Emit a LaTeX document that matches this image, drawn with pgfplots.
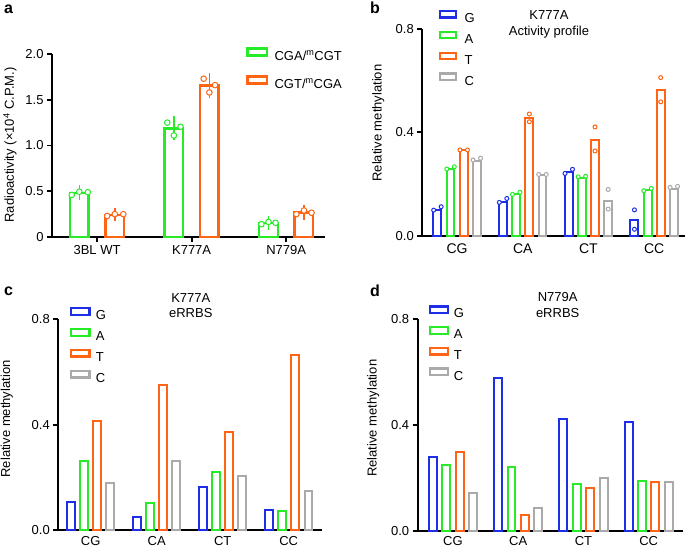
\documentclass[border=0pt]{standalone}
\usepackage{fontspec}
\setmainfont{Liberation Sans}
\usepackage{pgfplots}
\pgfplotsset{compat=1.18}
\definecolor{cg}{RGB}{40,235,40}
\definecolor{cb}{RGB}{30,45,230}
\definecolor{co}{RGB}{255,100,20}
\definecolor{cy}{RGB}{170,170,170}
\newcommand\fs{\fontsize{13bp}{15.6bp}\selectfont}
\newcommand\fl{\fontsize{14bp}{16bp}\selectfont}
\newcommand\fp{\fontsize{16bp}{18bp}\selectfont\bfseries}
\pgfplotsset{
 panel/.style={scale only axis, anchor=south west, axis lines=left,
   axis line style={-, line width=1.8bp, black}, tick align=outside,
   major tick length=5bp, tick style={line width=1.8bp, black}, clip=false, ymin=0,
   tick label style={font=\fs}, label style={font=\fs}, legend cell align=left,
   every axis legend/.append style={draw=none, fill=none, inner sep=0pt, outer sep=0pt,
     anchor=north west, font=\fs, nodes={text height=9.5bp, text depth=2.5bp, inner sep=0.5bp}}},
 bar/.style={ybar, bar shift=0pt, fill=white, draw=#1, line width=2bp, forget plot},
 dot/.style 2 args={only marks, mark=*, mark size=#2, mark options={draw=#1, fill=white, line width=1bp}, forget plot},
}
\begin{document}
\begin{tikzpicture}
\path[use as bounding box] (0,0) rectangle (685bp,-548bp);
% ---------------- panel a
\begin{axis}[panel, at={(52bp,-237bp)}, width=273bp, height=183bp,
  xmin=-0.476, xmax=2.41, ymax=2,
  ytick={0,0.5,1,1.5,2}, yticklabels={0,0.5,1.0,1.5,2.0},
  xtick={0,1,2}, xticklabels={3BL WT,K777A,N779A},
  ylabel={Radioactivity (×10\textsuperscript{4} C.P.M.)},
  ylabel style={at={(axis description cs:-0.154,0.503)}, anchor=center},
  legend image code/.code={\draw[#1,fill=white] (0bp,1.2bp) rectangle (19.5bp,8.2bp);},
  legend style={at={(axis description cs:0.711,1.037)}, row sep=12bp, column sep=6bp}]
\addplot[bar=cg, line width=2.5bp, bar width=0.196, error bars/.cd, y dir=both, y explicit,
  error bar style={line width=1.5bp, cg}, error mark options={line width=1.5bp, cg, mark size=5.5bp}]
  coordinates {(-0.1875,0.482) +- (0,0.021) (0.8125,1.187) +- (0,0.071) (1.8125,0.153) +- (0,0.013)};
\addplot[bar=co, line width=2.5bp, bar width=0.196, error bars/.cd, y dir=both, y explicit,
  error bar style={line width=1.5bp, co}, error mark options={line width=1.5bp, co, mark size=5.5bp}]
  coordinates {(0.1875,0.243) +- (0,0.012) (1.1875,1.657) +- (0,0.075) (2.1875,0.268) +- (0,0.02)};
\addplot[dot={cg}{2.8bp}] coordinates {(-0.2675,0.46) (-0.1875,0.495) (-0.0975,0.49)
  (0.7425,1.25) (0.8125,1.11) (0.8825,1.205) (1.7375,0.14) (1.8125,0.165) (1.8875,0.155)};
\addplot[dot={co}{2.8bp}] coordinates {(0.1075,0.23) (0.1875,0.25) (0.2775,0.25)
  (1.1275,1.73) (1.1875,1.58) (1.2475,1.66) (2.1075,0.25) (2.1875,0.29) (2.2675,0.265)};
\addlegendimage{draw=cg, line width=2.5bp}\addlegendentry{CGA/\textsuperscript{m}CGT}
\addlegendimage{draw=co, line width=2.5bp}\addlegendentry{CGT/\textsuperscript{m}CGA}
\node[font=\fp, anchor=base west] at (axis description cs:-0.1886,1.2224) {a};
\end{axis}
% ---------------- panel b
\begin{axis}[panel, at={(422.3bp,-235.7bp)}, width=262.7bp, height=206.7bp,
  xmin=-0.53, xmax=3.47, ymax=0.8,
  ytick={0,0.4,0.8}, yticklabels={0.0,0.4,0.8},
  xtick={0,1,2,3}, xticklabels={CG,CA,CT,CC}, major x tick style={draw=none},
  x tick label style={font=\fl},
  ylabel={Relative methylation},
  ylabel style={at={(axis description cs:-0.1675,0.545)}, anchor=center},
  legend image code/.code={\draw[#1,fill=white] (0bp,1.4bp) rectangle (16bp,8bp);},
  legend style={at={(axis description cs:0.063,1.093)}, row sep=5.3bp, column sep=7bp}]
\addplot[bar=cb, bar width=0.12] coordinates {(-0.3,0.10) (0.7,0.13) (1.7,0.245) (2.7,0.06)};
\addplot[bar=cg, bar width=0.12] coordinates {(-0.1,0.26) (0.9,0.16) (1.9,0.225) (2.9,0.175)};
\addplot[bar=co, bar width=0.12] coordinates {(0.1,0.33) (1.1,0.455) (2.1,0.37) (3.1,0.565)};
\addplot[bar=cy, bar width=0.12] coordinates {(0.3,0.29) (1.3,0.235) (2.3,0.135) (3.3,0.18)};
\addplot[dot={cb}{2bp}] coordinates {(-0.357,0.099) (-0.243,0.112) (0.643,0.129) (0.757,0.144)
  (1.643,0.241) (1.757,0.257) (2.7,0.100) (2.7,0.025)};
\addplot[dot={cg}{2bp}] coordinates {(-0.157,0.258) (-0.043,0.267) (0.843,0.160) (0.957,0.168)
  (1.843,0.228) (1.957,0.230) (2.843,0.174) (2.957,0.183)};
\addplot[dot={co}{2bp}] coordinates {(0.043,0.332) (0.157,0.332) (1.1,0.471) (1.1,0.441)
  (2.1,0.421) (2.1,0.328) (3.1,0.612) (3.1,0.518)};
\addplot[dot={cy}{2bp}] coordinates {(0.243,0.293) (0.357,0.300) (1.243,0.237) (1.357,0.237)
  (2.3,0.179) (2.3,0.103) (3.243,0.187) (3.357,0.191)};
\addlegendimage{draw=cb, line width=2.2bp}\addlegendentry{G}
\addlegendimage{draw=cg, line width=2.2bp}\addlegendentry{A}
\addlegendimage{draw=co, line width=2.2bp}\addlegendentry{T}
\addlegendimage{draw=cy, line width=2.2bp}\addlegendentry{C}
\node[font=\fp, anchor=base west] at (axis description cs:-0.2116,1.076) {b};
\node[font=\fs, anchor=base] at (axis description cs:0.482,1.0452) {K777A};
\node[font=\fs, anchor=base] at (axis description cs:0.482,0.9693) {Activity profile};
\end{axis}
% ---------------- panel c
\begin{axis}[panel, at={(58.3bp,-530bp)}, width=263.4bp, height=210.7bp,
  xmin=-0.49, xmax=3.5, ymax=0.8,
  ytick={0,0.4,0.8}, yticklabels={0.0,0.4,0.8},
  xtick={0,1,2,3}, xticklabels={CG,CA,CT,CC}, major x tick style={draw=none},
  x tick label style={font=\fs, yshift=2.5bp},
  ylabel={Relative methylation},
  ylabel style={at={(axis description cs:-0.196,0.527)}, anchor=center},
  legend image code/.code={\draw[#1,fill=white] (0bp,1.4bp) rectangle (18.3bp,8bp);},
  legend style={at={(axis description cs:0.045,1.058)}, row sep=5.3bp, column sep=4.8bp}]
\addplot[bar=cb, bar width=0.121] coordinates {(-0.3,0.107) (0.7,0.050) (1.7,0.163) (2.7,0.076)};
\addplot[bar=cg, bar width=0.121] coordinates {(-0.1,0.262) (0.9,0.101) (1.9,0.220) (2.9,0.074)};
\addplot[bar=co, bar width=0.121] coordinates {(0.1,0.414) (1.1,0.549) (2.1,0.373) (3.1,0.664)};
\addplot[bar=cy, bar width=0.121] coordinates {(0.3,0.180) (1.3,0.262) (2.3,0.205) (3.3,0.148)};
\addlegendimage{draw=cb, line width=2.2bp}\addlegendentry{G}
\addlegendimage{draw=cg, line width=2.2bp}\addlegendentry{A}
\addlegendimage{draw=co, line width=2.2bp}\addlegendentry{T}
\addlegendimage{draw=cy, line width=2.2bp}\addlegendentry{C}
\node[font=\fp, anchor=base west] at (axis description cs:-0.2194,1.1153) {c};
\node[font=\fs, anchor=base] at (axis description cs:0.503,1.0776) {K777A};
\node[font=\fs, anchor=base] at (axis description cs:0.503,1.0064) {eRRBS};
\end{axis}
% ---------------- panel d
\begin{axis}[panel, at={(417.7bp,-530.7bp)}, width=265.6bp, height=211.4bp,
  xmin=-0.54, xmax=3.53, ymax=0.8,
  ytick={0,0.4,0.8}, yticklabels={0.0,0.4,0.8},
  xtick={0,1,2,3}, xticklabels={CG,CA,CT,CC}, major x tick style={draw=none},
  x tick label style={font=\fs, yshift=2.5bp},
  ylabel={Relative methylation},
  ylabel style={at={(axis description cs:-0.167,0.532)}, anchor=center},
  legend image code/.code={\draw[#1,fill=white] (0bp,1.4bp) rectangle (17.8bp,8bp);},
  legend style={at={(axis description cs:0.042,1.066)}, row sep=5.1bp, column sep=4.6bp}]
\addplot[bar=cb, bar width=0.122] coordinates {(-0.3075,0.280) (0.6925,0.577) (1.6925,0.424) (2.6925,0.411)};
\addplot[bar=cg, bar width=0.122] coordinates {(-0.1025,0.248) (0.8975,0.241) (1.8975,0.178) (2.8975,0.188)};
\addplot[bar=co, bar width=0.122] coordinates {(0.1025,0.298) (1.1025,0.059) (2.1025,0.163) (3.1025,0.184)};
\addplot[bar=cy, bar width=0.122] coordinates {(0.3075,0.141) (1.3075,0.087) (2.3075,0.198) (3.3075,0.184)};
\addlegendimage{draw=cb, line width=2.2bp}\addlegendentry{G}
\addlegendimage{draw=cg, line width=2.2bp}\addlegendentry{A}
\addlegendimage{draw=co, line width=2.2bp}\addlegendentry{T}
\addlegendimage{draw=cy, line width=2.2bp}\addlegendentry{C}
\node[font=\fp, anchor=base west] at (axis description cs:-0.192,1.107) {d};
\node[font=\fs, anchor=base] at (axis description cs:0.527,1.0821) {N779A};
\node[font=\fs, anchor=base] at (axis description cs:0.527,1.0064) {eRRBS};
\end{axis}
\end{tikzpicture}
\end{document}
